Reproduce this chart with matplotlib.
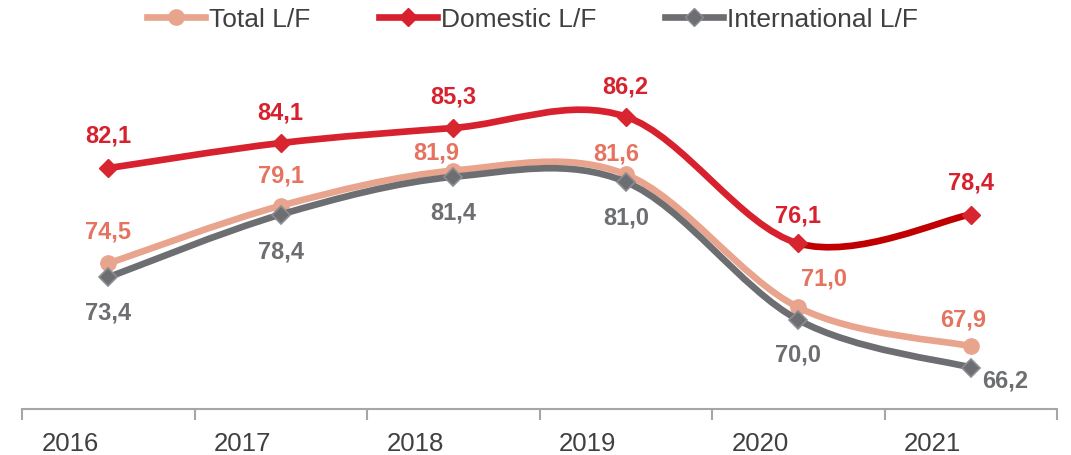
import numpy as np
import matplotlib
matplotlib.use("Agg")
import matplotlib.pyplot as plt
from matplotlib.path import Path
from matplotlib.patches import PathPatch
from matplotlib.lines import Line2D

plt.rcParams['font.family'] = ['Liberation Sans', 'DejaVu Sans']

years = ['2016', '2017', '2018', '2019', '2020', '2021']
total_lf = [74.5, 79.1, 81.9, 81.6, 71.0, 67.9]
domestic_lf = [82.1, 84.1, 85.3, 86.2, 76.1, 78.4]
international_lf = [73.4, 78.4, 81.4, 81.0, 70.0, 66.2]

# label offsets in pixels (dx, dy up)
total_off = [(0, 32), (0, 31), (-17, 19), (-9, 21), (26, 29), (-8, 27)]
dom_off = [(0, 33), (0, 31), (0, 32), (0, 31), (0, 28), (0, 33)]
int_off = [(0, -35), (0, -36), (0, -35), (0, -35), (0, -34), (34, -12)]

c_total, c_total_lbl = '#E9A48D', '#E5735F'
c_dom, c_dom2 = '#D7212E', '#C00000'
c_int = '#6D6E72'


def smooth_path(x, y, i0=0, i1=None):
    # excel-like bezier smoothing between points i0..i1
    n = len(x)
    if i1 is None:
        i1 = n - 1
    P = np.column_stack([x, y]).astype(float)
    verts = [P[i0]]
    codes = [Path.MOVETO]
    for i in range(i0, i1):
        p0 = P[max(i - 1, 0)]
        p1 = P[i]
        p2 = P[i + 1]
        p3 = P[min(i + 2, n - 1)]
        verts += [p1 + (p2 - p0) / 6, p2 - (p3 - p1) / 6, p2]
        codes += [Path.CURVE4] * 3
    return Path(verts, codes)


fig = plt.figure(figsize=(10.71, 4.56), dpi=100)
ax = fig.add_axes([22 / 1071, 1 - 410 / 456, (1057 - 22) / 1071, (410 - 70) / 456])
x = np.arange(len(years))

lw = 4.8
ms_o, ms_d = 11, 9.5
ax.add_patch(PathPatch(smooth_path(x, total_lf), fill=False, edgecolor=c_total,
                       lw=lw, capstyle='round', zorder=2))
ax.plot(x, total_lf, 'o', ms=ms_o, color=c_total, mec=c_total, zorder=3)

ax.add_patch(PathPatch(smooth_path(x, domestic_lf, 0, 4), fill=False, edgecolor=c_dom,
                       lw=lw, capstyle='round', zorder=2))
ax.add_patch(PathPatch(smooth_path(x, domestic_lf, 4, 5), fill=False, edgecolor=c_dom2,
                       lw=lw, capstyle='round', zorder=2))
ax.plot(x, domestic_lf, 'D', ms=ms_d, color='#D7262F', mec='#D7262F', zorder=3)

ax.add_patch(PathPatch(smooth_path(x, international_lf), fill=False, edgecolor=c_int,
                       lw=lw, capstyle='round', zorder=4))
ax.plot(x, international_lf, 'D', ms=ms_d, color=c_int, mec='#8C8D90', mew=1.2, zorder=5)

for vals, offs, col in [(total_lf, total_off, c_total_lbl),
                        (domestic_lf, dom_off, c_dom),
                        (international_lf, int_off, c_int)]:
    for xi, v, (dx, dy) in zip(x, vals, offs):
        ax.annotate(f'{v:.1f}'.replace('.', ','), (xi, v),
                    xytext=(dx * 0.72, dy * 0.72), textcoords='offset points',
                    ha='center', va='center', fontsize=17, fontweight='bold',
                    color=col, zorder=6)

ax.set_xlim(-0.5, len(years) - 0.5)
ax.set_ylim(62.9, 90)
for s in ['top', 'right', 'left']:
    ax.spines[s].set_visible(False)
ax.spines['bottom'].set_color('#A6A6A6')
ax.spines['bottom'].set_linewidth(1.5)
ax.set_yticks([])
ax.set_xticks(np.arange(-0.5, len(years)), minor=False)
ax.set_xticklabels([])
ax.tick_params(axis='x', which='major', length=8, width=1.5, color='#A6A6A6', direction='out')
# year labels sit left of the category centre in the original
ax.set_xticks(x - 0.22, minor=True)
ax.set_xticklabels(years, minor=True)
ax.tick_params(axis='x', which='minor', length=0, pad=16, labelsize=18.5, labelcolor='#404040')

handles = [
    Line2D([], [], color=c_total, lw=lw, marker='o', ms=ms_o),
    Line2D([], [], color=c_dom, lw=lw, marker='D', ms=ms_d),
    Line2D([], [], color=c_int, lw=lw, marker='D', ms=ms_d, mec='#8C8D90'),
]
fig.legend(handles, ['Total L/F', 'Domestic L/F', 'International L/F'],
           loc='center', bbox_to_anchor=(0.497, 1 - 20 / 456), ncol=3, frameon=False,
           fontsize=19, handlelength=2.2, handletextpad=0.15, columnspacing=2.6,
           labelcolor='#404040', borderaxespad=0, borderpad=0)

fig.savefig('out.png', dpi=100)
